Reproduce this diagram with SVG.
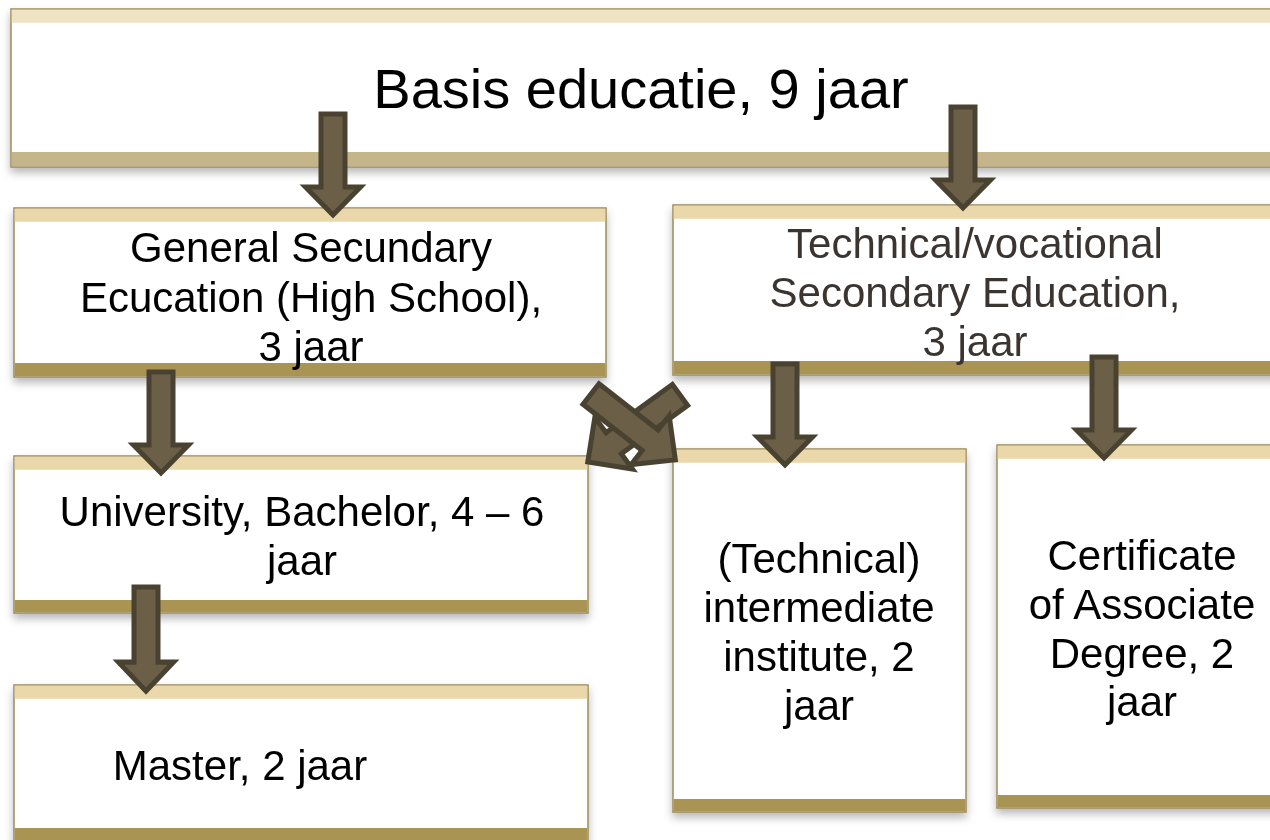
<svg xmlns="http://www.w3.org/2000/svg" width="1270" height="840" viewBox="0 0 1270 840">
<defs>
<filter id="sh" x="-5%" y="-10%" width="110%" height="130%">
<feDropShadow dx="0" dy="5" stdDeviation="4" flood-color="#000" flood-opacity="0.28"/>
</filter>
<path id="arr" d="M-12,0 H12 V73 H27.5 L0,101 L-27.5,73 H-12 Z"/>
<path id="darrA" d="M-13,0 H13 V75 H31 L0,107 L-31,75 H-13 Z"/>
<path id="darrB" d="M-13,0 H13 V82 H32 L0,114 L-32,82 H-13 Z"/>
</defs>
<style>
.box{fill:#fff;stroke:#9c8a58;stroke-width:1.5}
.tb{fill:#ebd8aa}
.bb{fill:#a99452}
.tb0{fill:#f0e3c3}
.bb0{fill:#c5b58a}
.t{font-family:"Liberation Sans",Arial,sans-serif;font-size:42px;fill:#000;text-anchor:middle}
.big{font-size:56px}
.t2{fill:#3b3430}
.a{fill:#6b5f48;stroke:#4a4231;stroke-width:5;stroke-linejoin:miter}
</style>
<rect width="1270" height="840" fill="#fff"/>

<g id="basis" filter="url(#sh)">
<rect class="box" x="11" y="9" width="1275" height="158"/>
<rect class="tb0" x="11.75" y="9.75" width="1274" height="13"/>
<rect class="bb0" x="11.75" y="152" width="1274" height="14.25"/>
<text class="t big" x="641" y="108">Basis educatie, 9 jaar</text>
</g>

<g id="general" filter="url(#sh)">
<rect class="box" x="14" y="208" width="592" height="169"/>
<rect class="tb" x="14.75" y="208.75" width="590.5" height="13"/>
<rect class="bb" x="14.75" y="363" width="590.5" height="13.25"/>
<text class="t" x="311" y="262">General Secundary</text>
<text class="t" x="311" y="312">Ecucation (High School),</text>
<text class="t" x="311" y="361">3 jaar</text>
</g>

<g id="technical" filter="url(#sh)">
<rect class="box" x="673" y="205" width="615" height="170"/>
<rect class="tb" x="673.75" y="205.75" width="614" height="13"/>
<rect class="bb" x="673.75" y="361" width="614" height="13.25"/>
<text class="t t2" x="975" y="258">Technical/vocational</text>
<text class="t t2" x="975" y="307">Secondary Education,</text>
<text class="t t2" x="975" y="356">3 jaar</text>
</g>

<g id="university" filter="url(#sh)">
<rect class="box" x="14" y="456" width="574" height="157"/>
<rect class="tb" x="14.75" y="456.75" width="572.5" height="13"/>
<rect class="bb" x="14.75" y="600" width="572.5" height="12.25"/>
<text class="t" x="302" y="526">University, Bachelor, 4 – 6</text>
<text class="t" x="302" y="575">jaar</text>
</g>

<g id="master" filter="url(#sh)">
<rect class="box" x="14" y="685" width="574" height="170"/>
<rect class="tb" x="14.75" y="685.75" width="572.5" height="13"/>
<rect class="bb" x="14.75" y="828" width="572.5" height="26"/>
<text class="t" x="240" y="780">Master, 2 jaar</text>
</g>

<g id="intermediate" filter="url(#sh)">
<rect class="box" x="673" y="449" width="293" height="363"/>
<rect class="tb" x="673.75" y="449.75" width="291.5" height="13"/>
<rect class="bb" x="673.75" y="799" width="291.5" height="12.25"/>
<text class="t" x="819" y="573">(Technical)</text>
<text class="t" x="819" y="622">intermediate</text>
<text class="t" x="819" y="671">institute, 2</text>
<text class="t" x="819" y="720">jaar</text>
</g>

<g id="certificate" filter="url(#sh)">
<rect class="box" x="997" y="445" width="295" height="363"/>
<rect class="tb" x="997.75" y="445.75" width="294" height="13"/>
<rect class="bb" x="997.75" y="795" width="294" height="12.25"/>
<text class="t" x="1142" y="570">Certificate</text>
<text class="t" x="1142" y="619">of Associate</text>
<text class="t" x="1142" y="668">Degree, 2</text>
<text class="t" x="1142" y="716">jaar</text>
</g>

<g id="connectors">
<use href="#arr" class="a" transform="translate(333,114)"/>
<use href="#arr" class="a" transform="translate(963,107)"/>
<use href="#arr" class="a" transform="translate(161,372)"/>
<use href="#arr" class="a" transform="translate(146,587) scale(1,1.03)"/>
<use href="#arr" class="a" transform="translate(785,364)"/>
<use href="#arr" class="a" transform="translate(1104,357)"/>
<use href="#darrB" class="a" transform="translate(680,395) rotate(54)"/>
<use href="#darrA" class="a" transform="translate(591,394) rotate(-52)"/>
</g>
</svg>
